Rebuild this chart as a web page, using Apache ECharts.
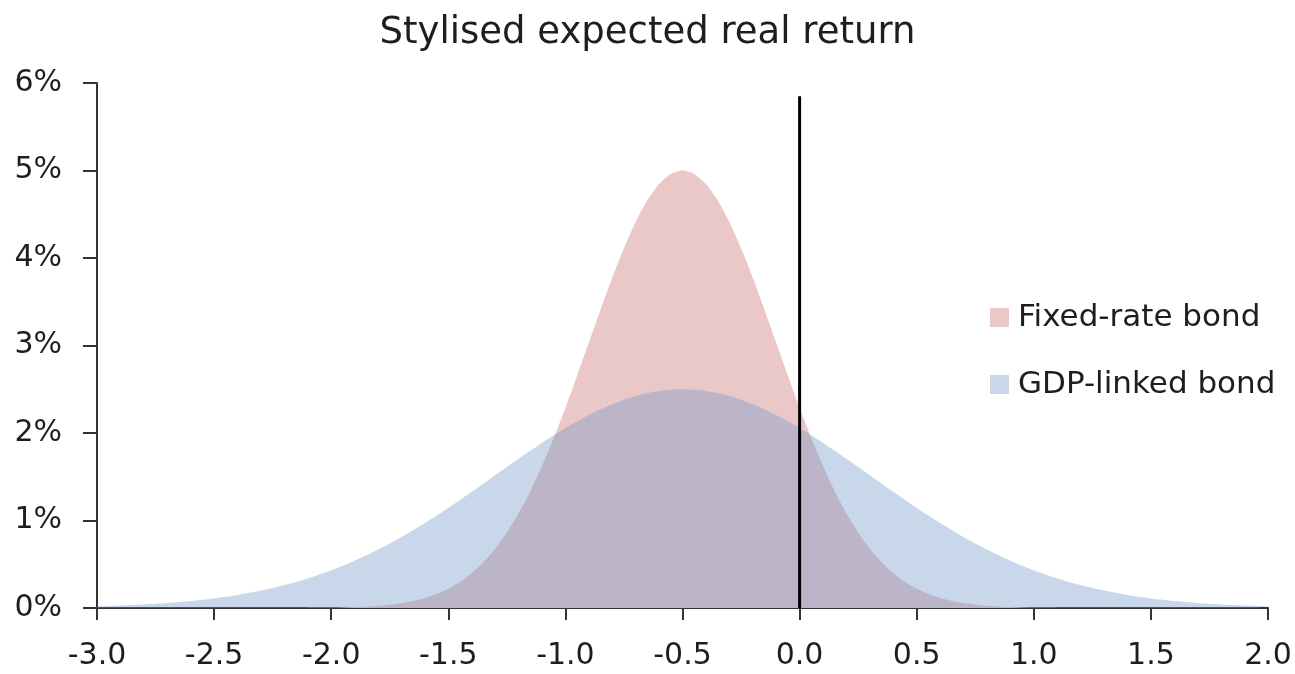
<!DOCTYPE html>
<html>
<head>
<meta charset="utf-8">
<script src="https://cdn.jsdelivr.net/npm/echarts@6/dist/echarts.min.js"></script>
<style>
   html, body { margin: 0; padding: 0; background: #ffffff; }
   #chart { width: 1295px; height: 674px; }
</style>
</head>
<body>
<div id="chart"></div>
<script>

// real return (x) and density in %
const xValues = [
   -3.00, -2.95, -2.90, -2.85, -2.80, -2.75, -2.70, -2.65, -2.60, -2.55,
   -2.50, -2.45, -2.40, -2.35, -2.30, -2.25, -2.20, -2.15, -2.10, -2.05,
   -2.00, -1.95, -1.90, -1.85, -1.80, -1.75, -1.70, -1.65, -1.60, -1.55,
   -1.50, -1.45, -1.40, -1.35, -1.30, -1.25, -1.20, -1.15, -1.10, -1.05,
   -1.00, -0.95, -0.90, -0.85, -0.80, -0.75, -0.70, -0.65, -0.60, -0.55,
   -0.50, -0.45, -0.40, -0.35, -0.30, -0.25, -0.20, -0.15, -0.10, -0.05,
    0.00,  0.05,  0.10,  0.15,  0.20,  0.25,  0.30,  0.35,  0.40,  0.45,
    0.50,  0.55,  0.60,  0.65,  0.70,  0.75,  0.80,  0.85,  0.90,  0.95,
    1.00,  1.05,  1.10,  1.15,  1.20,  1.25,  1.30,  1.35,  1.40,  1.45,
    1.50,  1.55,  1.60,  1.65,  1.70,  1.75,  1.80,  1.85,  1.90,  1.95,
    2.00
];

const fixedRate = [
   0.000, 0.000, 0.000, 0.000, 0.000, 0.000, 0.000, 0.000, 0.000, 0.000,
   0.000, 0.000, 0.000, 0.000, 0.000, 0.000, 0.000, 0.000, 0.001, 0.002,
   0.004, 0.007, 0.011, 0.017, 0.025, 0.038, 0.056, 0.080, 0.114, 0.159,
   0.220, 0.298, 0.398, 0.523, 0.677, 0.862, 1.082, 1.335, 1.623, 1.943,
   2.289, 2.655, 3.033, 3.409, 3.774, 4.113, 4.412, 4.660, 4.846, 4.961,
   5.000, 4.961, 4.846, 4.660, 4.412, 4.113, 3.774, 3.409, 3.033, 2.655,
   2.289, 1.943, 1.623, 1.335, 1.082, 0.862, 0.677, 0.523, 0.398, 0.298,
   0.220, 0.159, 0.114, 0.080, 0.056, 0.038, 0.025, 0.017, 0.011, 0.007,
   0.004, 0.002, 0.001, 0.000, 0.000, 0.000, 0.000, 0.000, 0.000, 0.000,
   0.000, 0.000, 0.000, 0.000, 0.000, 0.000, 0.000, 0.000, 0.000, 0.000,
   0.000
];

const gdpLinked = [
   0.019, 0.023, 0.028, 0.033, 0.040, 0.048, 0.057, 0.068, 0.080, 0.094,
   0.110, 0.128, 0.149, 0.173, 0.199, 0.229, 0.262, 0.298, 0.338, 0.383,
   0.431, 0.484, 0.541, 0.602, 0.668, 0.738, 0.812, 0.890, 0.971, 1.057,
   1.144, 1.235, 1.328, 1.421, 1.516, 1.611, 1.705, 1.797, 1.887, 1.974,
   2.056, 2.134, 2.206, 2.272, 2.330, 2.381, 2.423, 2.456, 2.480, 2.495,
   2.500, 2.495, 2.480, 2.456, 2.423, 2.381, 2.330, 2.272, 2.206, 2.134,
   2.056, 1.974, 1.887, 1.797, 1.705, 1.611, 1.516, 1.421, 1.328, 1.235,
   1.144, 1.057, 0.971, 0.890, 0.812, 0.738, 0.668, 0.602, 0.541, 0.484,
   0.431, 0.383, 0.338, 0.298, 0.262, 0.229, 0.199, 0.173, 0.149, 0.128,
   0.110, 0.094, 0.080, 0.068, 0.057, 0.048, 0.040, 0.033, 0.028, 0.023,
   0.019
];

// vertical marker at zero return
const zeroLineX = [0, 0];
const zeroLineY = [0, 5.85];

const seriesNames = ['Fixed-rate bond', 'GDP-linked bond'];

const font = '"DejaVu Sans", sans-serif';
const textColor = '#1e1e1e';
const axisColor = '#333333';


function pairs(xs, ys)
{
   var out = [];
   for (var i=0; i<xs.length; i++) out.push([xs[i], ys[i]]);
   return out;
}


var chart = echarts.init(document.getElementById('chart'), null, { renderer: 'canvas' });

var option =
{
   animation: false,
   backgroundColor: '#ffffff',
   title:
   {
      text: 'Stylised expected real return',
      left: 'center',
      top: 10,
      textStyle: { fontFamily: font, fontSize: 37, fontWeight: 'normal', color: textColor }
   },
   legend:
   {
      data: seriesNames,
      orient: 'vertical',
      left: 985,
      top: 297,
      itemWidth: 19,
      itemHeight: 19,
      itemGap: 36,
      icon: 'rect',
      textStyle: { fontFamily: font, fontSize: 31, color: textColor, padding: [0, 0, 0, 4] }
   },
   grid: { left: 97, right: 27, top: 83, bottom: 66 },
   xAxis:
   {
      type: 'value',
      min: -3,
      max: 2,
      interval: 0.5,
      splitLine: { show: false },
      axisLine: { onZero: false, lineStyle: { color: axisColor, width: 2 } },
      axisTick: { show: true, length: 12, lineStyle: { color: axisColor, width: 2 } },
      axisLabel:
      {
         margin: 33,
         fontFamily: font, fontSize: 30, color: textColor,
         formatter: function (v) { return v.toFixed(1); }
      }
   },
   yAxis:
   {
      type: 'value',
      min: 0,
      max: 6,
      interval: 1,
      splitLine: { show: false },
      axisLine: { show: true, onZero: false, lineStyle: { color: axisColor, width: 2 } },
      axisTick: { show: true, length: 14, lineStyle: { color: axisColor, width: 2 } },
      axisLabel:
      {
         margin: 35,
         fontFamily: font, fontSize: 30, color: textColor,
         formatter: '{value}%'
      }
   },
   series:
   [
      {
         name: seriesNames[0],
         type: 'line',
         smooth: 0.25,
         symbol: 'none',
         data: pairs(xValues, fixedRate),
         itemStyle: { color: '#ebc8c8' },
         lineStyle: { width: 0 },
         areaStyle: { color: '#ebc8c8', opacity: 1 },
         z: 2
      },
      {
         name: seriesNames[1],
         type: 'line',
         smooth: 0.25,
         symbol: 'none',
         data: pairs(xValues, gdpLinked),
         itemStyle: { color: '#c8d8ea' },
         lineStyle: { width: 0 },
         areaStyle: { color: 'rgba(106,150,198,0.37)', opacity: 1 },
         z: 3
      },
      {
         name: 'zero',
         type: 'line',
         symbol: 'none',
         data: pairs(zeroLineX, zeroLineY),
         lineStyle: { color: '#000000', width: 3 },
         silent: true,
         z: 5
      }
   ]
};

chart.setOption(option);

</script>
</body>
</html>
